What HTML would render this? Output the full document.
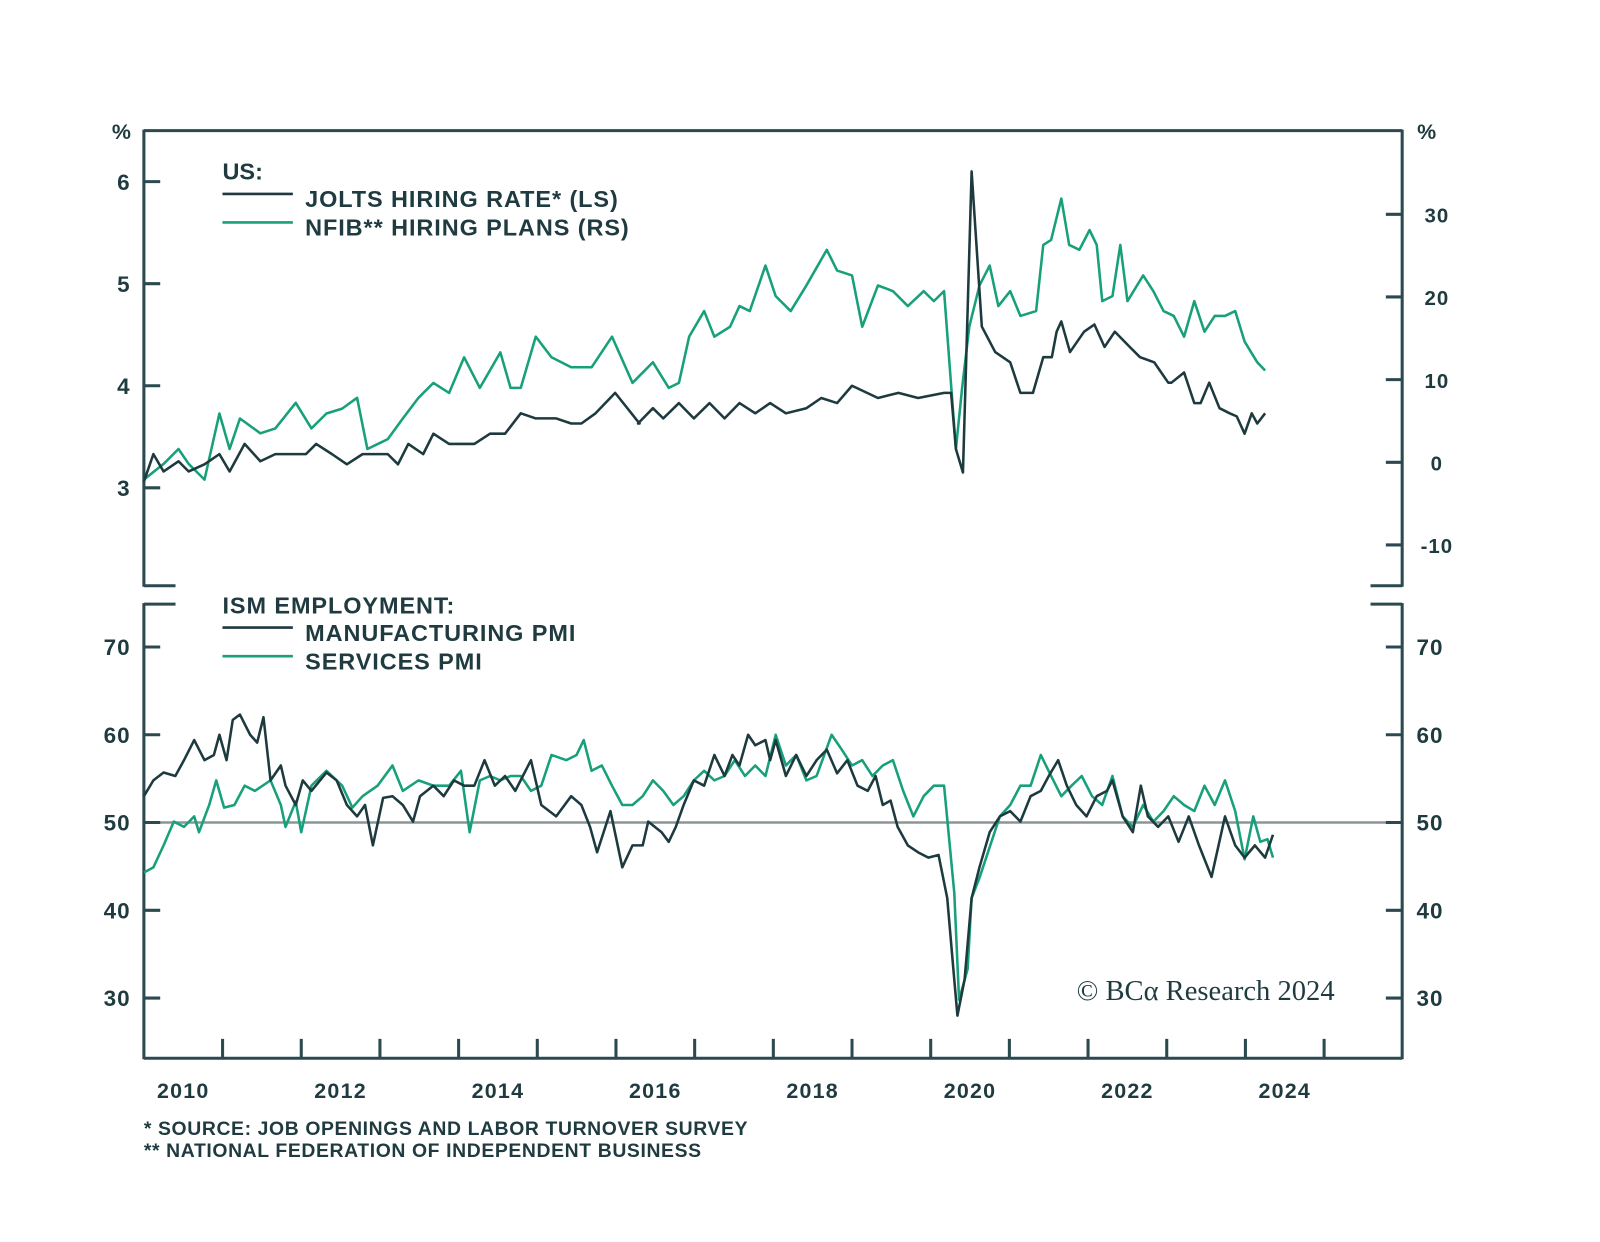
<!DOCTYPE html>
<html><head><meta charset="utf-8"><style>
body{margin:0;background:#fff;}
svg text{font-family:"Liberation Sans",sans-serif;font-weight:bold;fill:#1f3b40;}
</style></head><body>
<svg id="chart" width="1600" height="1237" xmlns="http://www.w3.org/2000/svg"><g id="root" transform="scale(1.0205)"></g></svg>
<script>
const joltsDates=[2010.00,2010.12,2010.25,2010.44,2010.57,2010.77,2010.96,2011.09,2011.28,2011.48,2011.67,2012.06,2012.19,2012.39,2012.58,2012.78,2013.10,2013.23,2013.36,2013.55,2013.68,2013.88,2014.20,2014.40,2014.59,2014.79,2014.98,2015.24,2015.43,2015.56,2015.74,2015.99,2016.30,2016.28,2016.47,2016.60,2016.80,2016.99,2017.19,2017.38,2017.57,2017.77,2017.96,2018.16,2018.42,2018.61,2018.81,2019.00,2019.33,2019.59,2019.84,2020.17,2020.26,2020.32,2020.41,2020.52,2020.65,2020.82,2021.01,2021.14,2021.30,2021.43,2021.54,2021.60,2021.66,2021.77,2021.95,2022.08,2022.21,2022.34,2022.53,2022.66,2022.84,2023.02,2023.06,2023.22,2023.35,2023.43,2023.54,2023.67,2023.80,2023.89,2023.99,2024.08,2024.15,2024.25];
const joltsValues=[3.06,3.33,3.16,3.26,3.16,3.23,3.33,3.16,3.43,3.26,3.33,3.33,3.43,3.33,3.23,3.33,3.33,3.23,3.43,3.33,3.53,3.43,3.43,3.53,3.53,3.73,3.68,3.68,3.63,3.63,3.73,3.93,3.63,3.63,3.78,3.68,3.83,3.68,3.83,3.68,3.83,3.73,3.83,3.73,3.78,3.88,3.83,4.00,3.88,3.93,3.88,3.93,3.93,3.38,3.15,6.10,4.58,4.33,4.23,3.93,3.93,4.28,4.28,4.53,4.63,4.33,4.53,4.60,4.38,4.53,4.38,4.28,4.23,4.03,4.03,4.13,3.83,3.83,4.03,3.78,3.73,3.70,3.53,3.73,3.63,3.73,3.53];
const nfibDates=[2010.00,2010.25,2010.44,2010.57,2010.77,2010.96,2011.09,2011.22,2011.48,2011.67,2011.93,2012.13,2012.32,2012.52,2012.71,2012.84,2013.10,2013.29,2013.49,2013.68,2013.88,2014.07,2014.27,2014.53,2014.66,2014.79,2014.98,2015.18,2015.43,2015.69,2015.95,2016.21,2016.47,2016.67,2016.80,2016.93,2017.12,2017.25,2017.45,2017.57,2017.70,2017.90,2018.03,2018.22,2018.42,2018.68,2018.81,2019.00,2019.13,2019.33,2019.52,2019.71,2019.91,2020.04,2020.17,2020.32,2020.40,2020.49,2020.62,2020.75,2020.86,2021.01,2021.14,2021.34,2021.43,2021.53,2021.66,2021.76,2021.89,2022.02,2022.11,2022.18,2022.31,2022.41,2022.50,2022.70,2022.83,2022.96,2023.09,2023.22,2023.35,2023.48,2023.61,2023.74,2023.87,2023.99,2024.15,2024.25];
const nfibValues=[-2.1,-0.2,1.6,-0.2,-2.1,5.9,1.6,5.3,3.5,4.1,7.2,4.1,5.9,6.5,7.8,1.6,2.8,5.3,7.8,9.6,8.4,12.7,9.0,13.3,9.0,9.0,15.2,12.7,11.5,11.5,15.2,9.6,12.1,9.0,9.6,15.2,18.3,15.2,16.4,18.9,18.3,23.8,20.1,18.3,21.4,25.7,23.2,22.6,16.4,21.4,20.7,18.9,20.7,19.5,20.7,1.6,9.0,16.4,21.4,23.8,18.9,20.7,17.7,18.3,26.3,26.9,31.9,26.3,25.7,28.1,26.3,19.5,20.1,26.3,19.5,22.6,20.7,18.3,17.7,15.2,19.5,15.8,17.7,17.7,18.3,14.6,12.1,11.1];
const mfgX=[141,150,160,172,180,190,200,210,215,222,228,235,245,252,258,265,275,280,290,297,305,320,330,340,350,358,365,375,385,395,405,412,425,435,445,455,465,475,485,495,505,520,530,545,560,570,578,585,598,610,620,630,635,648,655,662,670,680,690,700,710,718,725,733,740,750,755,760,770,780,790,800,810,820,830,840,850,858,865,873,880,890,900,910,920,928,935,938,945,952,960,970,980,990,1000,1010,1020,1028,1037,1045,1055,1065,1075,1085,1090,1100,1110,1118,1125,1135,1145,1155,1165,1175,1187,1200,1210,1220,1230,1240,1247];
const mfgDates=mfgX.map(x=>+(2010+(x-141)/77.1).toFixed(2));
const mfgValues=[53.0,54.8,55.7,55.3,57.1,59.4,57.1,57.7,60.0,57.1,61.7,62.3,60.0,59.1,62.0,54.8,56.5,54.2,52.0,54.8,53.6,55.7,54.8,52.0,50.7,52.0,47.4,52.8,53.0,52.0,50.1,53.0,54.2,53.0,54.8,54.2,54.2,57.1,54.2,55.3,53.6,57.1,52.0,50.7,53.0,52.0,49.5,46.6,51.3,44.9,47.4,47.4,50.1,48.9,47.8,49.5,52.0,54.8,54.2,57.7,55.3,57.7,56.5,60.0,58.8,59.4,57.1,59.4,55.3,57.7,55.3,57.1,58.3,55.6,57.1,54.2,53.6,55.3,52.0,52.5,49.5,47.4,46.6,46.0,46.3,41.4,32.1,28.0,32.1,41.4,44.9,48.9,50.7,51.3,50.1,53.0,53.6,55.3,57.1,54.2,52.0,50.7,53.0,53.6,54.8,50.7,48.9,54.2,50.7,49.5,50.7,47.8,50.7,47.4,43.8,50.7,47.4,46.0,47.4,46.0,48.6];
const svcX=[141,150,160,170,180,190,195,205,212,220,230,240,250,265,275,280,290,295,305,320,335,345,355,370,385,395,410,425,440,452,460,470,480,490,500,510,520,530,540,555,565,572,580,590,600,610,620,630,640,650,660,670,680,690,700,710,720,730,740,750,760,770,780,790,800,815,825,835,845,855,865,875,885,895,905,915,925,935,940,948,952,960,970,980,990,1000,1010,1020,1030,1040,1050,1060,1070,1080,1090,1100,1110,1120,1130,1140,1150,1160,1170,1180,1190,1200,1210,1220,1228,1235,1242,1247];
const svcDates=svcX.map(x=>+(2010+(x-141)/77.1).toFixed(2));
const svcValues=[44.3,44.9,47.4,50.1,49.5,50.7,48.9,52.0,54.8,51.7,52.0,54.2,53.6,54.8,52.0,49.5,52.4,48.9,54.2,55.9,54.2,51.7,53.0,54.2,56.5,53.6,54.8,54.2,54.2,55.9,48.9,54.8,55.3,54.8,55.3,55.3,53.6,54.2,57.7,57.1,57.7,59.4,55.9,56.5,54.2,52.0,52.0,53.0,54.8,53.6,52.0,53.0,54.8,55.9,54.8,55.3,57.1,55.3,56.5,55.3,60.0,56.5,57.7,54.8,55.3,60.0,58.3,56.5,57.1,55.3,56.5,57.1,53.6,50.7,53.0,54.2,54.2,42.0,29.8,33.3,41.4,43.7,47.2,50.7,52.0,54.2,54.2,57.7,55.3,53.0,54.2,55.3,53.0,52.0,55.3,50.7,49.5,52.0,50.1,51.3,53.0,52.0,51.3,54.2,52.0,54.8,51.3,45.8,50.7,47.8,48.1,46.0];
const xYears=[2010,2012,2014,2016,2018,2020,2022,2024];
const leftTopTicks=[3,4,5,6];
const rightTopTicks=[-10,0,10,20,30];
const ismTicks=[30,40,50,60,70];

const DARK='#1d3a3f',GREEN='#17a07a',FR='#2b4a50';
const X=t=>141+(t-2010)*77.1;
const yJ=v=>178+(6-v)*100;
const yN=v=>453-v*8.1;
const yI=v=>806-(v-50)*8.6;
const root=document.getElementById('root');
const NS='http://www.w3.org/2000/svg';
function el(tag,attrs,txt){const e=document.createElementNS(NS,tag);for(const k in attrs)e.setAttribute(k,attrs[k]);if(txt!==undefined)e.textContent=txt;root.appendChild(e);return e;}
function line(x1,y1,x2,y2,c,w,name){const e=el('line',{x1,y1,x2,y2,stroke:c,'stroke-width':w});

return e;}
function text(x,y,s,size,anchor,name,ls){const e=el('text',{x,y,'font-size':size,'text-anchor':anchor,'letter-spacing':ls||0},s);

return e;}
function series(dates,vals,yf,c,name){const d=dates.map((t,i)=>(i?'L':'M')+X(t).toFixed(1)+','+yf(vals[i]).toFixed(1)).join('');
const p=el('path',{d,fill:'none',stroke:c,'stroke-width':2.5,'stroke-linejoin':'round'});

}

line(141,806,1374,806,'#8a9598',2.5,'ism-50-line');
line(141,128,1374,128,FR,3,'top-panel-top-border');
line(141,127,141,575,FR,3,'top-panel-left-axis');
line(1374,127,1374,575,FR,3,'top-panel-right-axis');
line(141,574,172,574,FR,3,'top-panel-left-break');
line(1343,574,1374,574,FR,3,'top-panel-right-break');
line(141,592,172,592,FR,3,'bottom-panel-left-break');
line(1343,592,1374,592,FR,3,'bottom-panel-right-break');
line(141,591,141,1038,FR,3,'bottom-panel-left-axis');
line(1374,591,1374,1038,FR,3,'bottom-panel-right-axis');
line(141,1037,1374,1037,FR,3,'x-axis-line');
for(let y=2011;y<=2025;y++){line(X(y),1018,X(y),1037,FR,3,'x-tick');}
xYears.forEach(y=>text(X(y+0.5),1076,String(y),21,'middle','x-tick-label',1.2));
leftTopTicks.forEach(v=>{line(141,yJ(v),157,yJ(v),FR,3,'left-tick');text(128,yJ(v)+8,String(v),22,'end','left-tick-label',1);});
rightTopTicks.forEach(v=>{line(1358,yN(v),1374,yN(v),FR,3,'right-tick');text(1408,yN(v)+8,String(v),20,'middle','right-tick-label',1);});
ismTicks.forEach(v=>{line(141,yI(v),157,yI(v),FR,3,'ism-left-tick');text(128,yI(v)+8,String(v),22,'end','ism-left-tick-label',1);
line(1358,yI(v),1374,yI(v),FR,3,'ism-right-tick');text(1388,yI(v)+8,String(v),22,'start','ism-right-tick-label',1);});
text(119,136,'%',21,'middle','left-unit');
text(1398,136,'%',21,'middle','right-unit');

series(nfibDates,nfibValues,yN,GREEN,'nfib-hiring-plans-line');
series(joltsDates,joltsValues,yJ,DARK,'jolts-hiring-rate-line');
series(svcDates,svcValues,yI,GREEN,'services-pmi-line');
series(mfgDates,mfgValues,yI,DARK,'manufacturing-pmi-line');

text(218,176,'US:',23,'start','top-legend-title');
line(218,190,287,190,DARK,2.6,'legend-swatch-jolts');
text(299,203,'JOLTS HIRING RATE* (LS)',23,'start','legend-jolts',0.9);
line(218,218,287,218,GREEN,2.6,'legend-swatch-nfib');
text(299,231,'NFIB** HIRING PLANS (RS)',23,'start','legend-nfib',0.9);
text(218,601,'ISM EMPLOYMENT:',23,'start','bottom-legend-title',0.9);
line(218,615,287,615,DARK,2.6,'legend-swatch-mfg');
text(299,628,'MANUFACTURING PMI',23,'start','legend-mfg',0.9);
line(218,643,287,643,GREEN,2.6,'legend-swatch-svc');
text(299,656,'SERVICES PMI',23,'start','legend-svc',0.9);
const cp=text(1055,980,'© BCα Research 2024',28,'start','copyright');
cp.setAttribute('style','font-family:"Liberation Serif",serif;font-weight:normal');
text(141,1112,'*  SOURCE: JOB OPENINGS AND LABOR TURNOVER SURVEY',19,'start','footnote-source',0.6);
text(141,1134,'** NATIONAL FEDERATION OF INDEPENDENT BUSINESS',19,'start','footnote-nfib',0.6);
</script>
</body></html>
